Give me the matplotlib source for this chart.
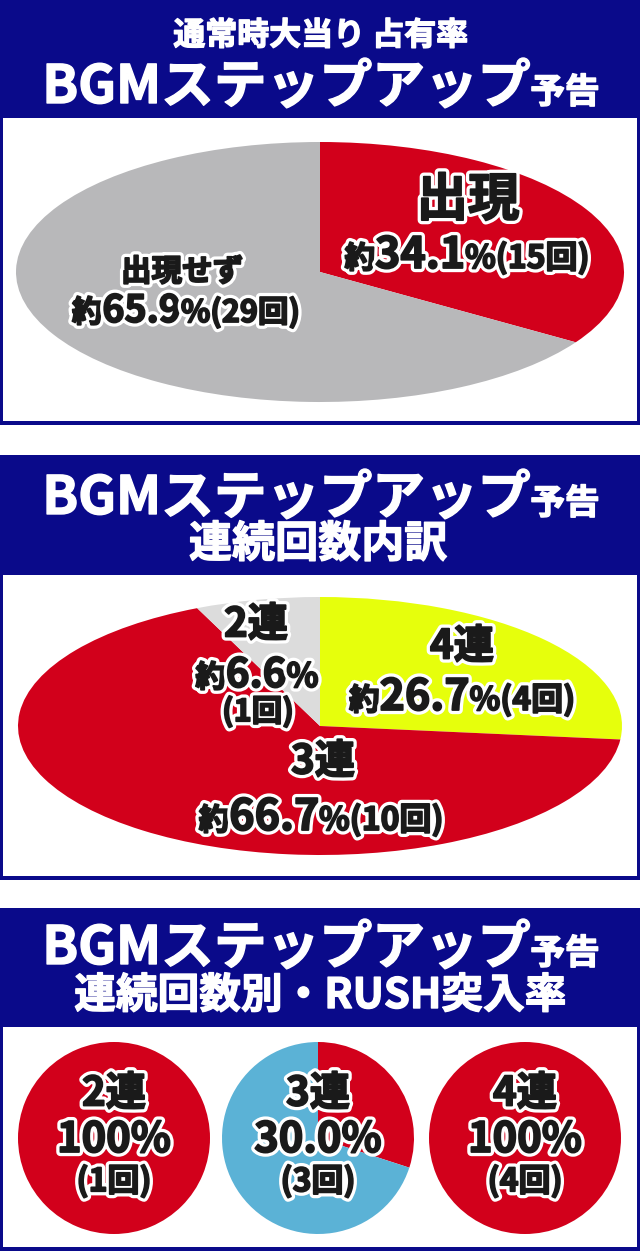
import matplotlib.pyplot as plt
import matplotlib.patheffects as pe
from matplotlib.patches import Rectangle

plt.rcParams['font.family'] = ['Noto Sans CJK JP', 'DejaVu Sans']

# --- data ---
appear_labels = ['出現', '出現せず']
appear_counts = [15, 29]
appear_pct = ['34.1', '65.9']

streak_labels = ['4連', '3連', '2連']
streak_counts = [4, 10, 1]
streak_pct = ['26.7', '66.7', '6.6']

rush_labels = ['2連', '3連', '4連']
rush_hit = [1, 3, 4]
rush_total = [1, 10, 4]
rush_pct = ['100', '30.0', '100']

NAVY = '#0a0a8a'
RED = '#d2001b'
GRAY = '#b8b8ba'
LGRAY = '#dcdcdc'
YELLOW = '#e6ff0c'
BLUE = '#5bb2d6'
INK = '#1a1a1a'

W, H = 640, 1251
fig = plt.figure(figsize=(W / 100, H / 100), dpi=100)
bg = fig.add_axes([0, 0, 1, 1])
bg.set_xlim(0, W)
bg.set_ylim(H, 0)
bg.axis('off')

# headers and boxes
headers = [(0, 118), (455, 575), (908, 1027)]
boxes = [(118, 425), (575, 880), (1027, 1251)]
for (h0, h1), (b0, b1) in zip(headers, boxes):
    bg.add_patch(Rectangle((0, h0), W, h1 - h0, color=NAVY, lw=0))
    bg.add_patch(Rectangle((0, b0), W, b1 - b0, color=NAVY, lw=0))
    bg.add_patch(Rectangle((3, b0), W - 6, b1 - b0 - 4, color='white', lw=0))


def pie_ax(left, top, right, bottom, values, colors):
    ax = fig.add_axes([left / W, 1 - bottom / H, (right - left) / W, (bottom - top) / H])
    ax.pie(values, colors=colors, startangle=90, counterclock=False,
           wedgeprops=dict(linewidth=0))
    ax.set_aspect('auto')
    ax.set_xlim(-1, 1)
    ax.set_ylim(-1, 1)
    return ax


pie_ax(16, 142, 624, 402, appear_counts, [RED, GRAY])
pie_ax(18, 597, 622, 855, streak_counts, [YELLOW, RED, LGRAY])
circle_x = [114, 318, 525]
for cx, hit, tot in zip(circle_x, rush_hit, rush_total):
    pie_ax(cx - 96, 1042, cx + 96, 1234, [hit, tot - hit], [RED, BLUE])

# overlay for text
top = fig.add_axes([0, 0, 1, 1])
top.set_xlim(0, W)
top.set_ylim(H, 0)
top.axis('off')

renderer = fig.canvas.get_renderer()


def effects(color, fx):
    if fx:
        return [pe.Stroke(linewidth=6, foreground='white'),
                pe.Stroke(linewidth=1.3, foreground=color), pe.Normal()]
    return [pe.Stroke(linewidth=1.0, foreground=color), pe.Normal()]


def label(x, y, s, size, color=INK, fx=True):
    top.text(x, y, s, fontsize=size, fontweight='bold', color=color,
             ha='center', va='center', path_effects=effects(color, fx))


def rich(x, base, parts, color=INK, fx=True):
    texts = []
    for s, size in parts:
        t = top.text(0, base, s, fontsize=size, fontweight='bold', color=color,
                     ha='left', va='baseline', path_effects=effects(color, fx))
        texts.append(t)
    widths = [t.get_window_extent(renderer).width for t in texts]
    cur = x - sum(widths) / 2
    for t, w in zip(texts, widths):
        t.set_x(cur)
        cur += w


# section 1 header
label(321, 36, '通常時大当り 占有率', 23, color='white', fx=False)
rich(321, 103, [('BGMステップアップ', 38), ('予告', 25)], color='white', fx=False)

# section 1 pie labels
label(468, 200, appear_labels[0], 37)
rich(467, 268, [('約', 22), (appear_pct[0], 31), (f'%({appear_counts[0]}回)', 23)])
label(182, 272, appear_labels[1], 22)
rich(186, 322, [('約', 22), (appear_pct[1], 27), (f'%({appear_counts[1]}回)', 22)])

# section 2 header
rich(321, 514, [('BGMステップアップ', 38), ('予告', 25)], color='white', fx=False)
label(318, 544, '連続回数内訳', 31, color='white', fx=False)

# section 2 labels
label(462, 647, streak_labels[0], 29)
rich(462, 710, [('約', 22), (streak_pct[0], 31), (f'%({streak_counts[0]}回)', 23)])
label(323, 762, streak_labels[1], 29)
rich(321, 830, [('約', 22), (streak_pct[1], 31), (f'%({streak_counts[1]}回)', 23)])
label(256, 625, streak_labels[2], 29)
rich(257, 687, [('約', 22), (streak_pct[2], 29), ('%', 24)])
label(258, 712, f'({streak_counts[2]}回)', 22)

# section 3 header
rich(321, 964, [('BGMステップアップ', 38), ('予告', 25)], color='white', fx=False)
label(320, 996, '連続回数別・RUSH突入率', 30, color='white', fx=False)

# section 3 labels
for cx, name, pct, hit in zip(circle_x, rush_labels, rush_pct, rush_hit):
    label(cx, 1094, name, 29)
    label(cx, 1140, pct + '%', 30)
    label(cx, 1182, f'({hit}回)', 23)

fig.savefig('out.png', dpi=100)
